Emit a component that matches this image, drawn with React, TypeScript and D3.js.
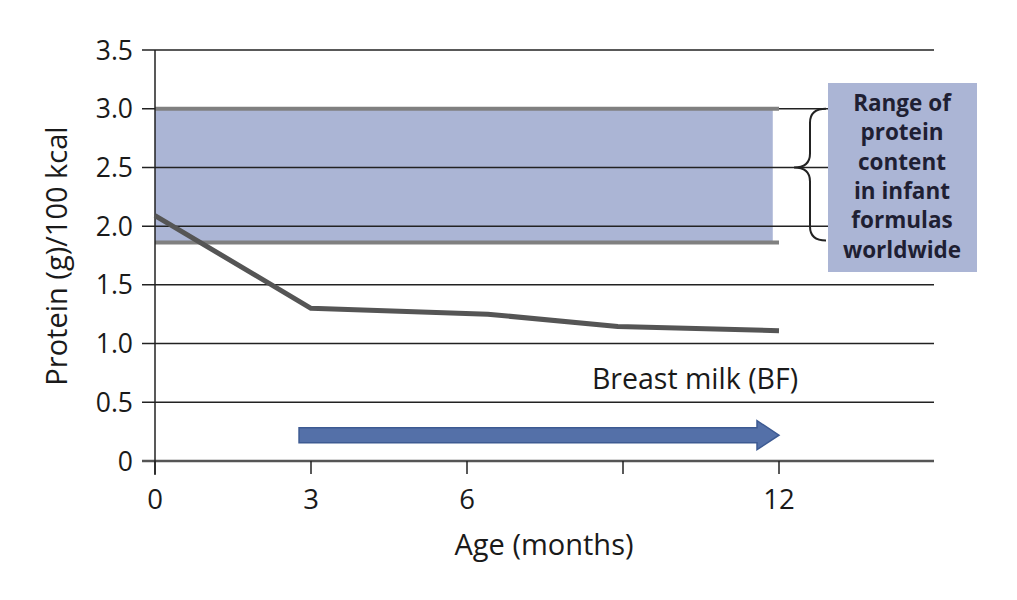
import React from "react";
import * as d3 from "d3";

const months = [0, 3, 6.4, 8.9, 12];
const breastMilkProtein = [2.09, 1.3, 1.25, 1.145, 1.11];
const formulaRange = [1.86, 3.0];
const formulaRangeMonths = [0, 12];
const arrowMonths = [2.77, 12];
const arrowLevel = 0.22;
const yTicks = [0, 0.5, 1, 1.5, 2, 2.5, 3, 3.5];
const yTickLabels = ["0", "0.5", "1.0", "1.5", "2.0", "2.5", "3.0", "3.5"];
const xTicks = [0, 3, 6, 9, 12];
const xTickLabels = ["0", "3", "6", "", "12"];
const boxLines = ["Range of", "protein", "content", "in infant", "formulas", "worldwide"];

const W = 1017;
const H = 600;
const FONT = "'Open Sans', 'Noto Sans', sans-serif";

export default function App() {
  const x = d3.scaleLinear().domain([0, 15]).range([155, 935]);
  const y = d3.scaleLinear().domain([0, 3.5]).range([461, 50]);

  const line = d3
    .line<number>()
    .x((_, i) => x(months[i]))
    .y((d) => y(d));

  const bandX0 = x(formulaRangeMonths[0]);
  const bandX1 = x(formulaRangeMonths[1]);
  const bandTop = y(formulaRange[1]);
  const bandBot = y(formulaRange[0]);

  const ax0 = x(arrowMonths[0]);
  const ax1 = x(arrowMonths[1]);
  const ay = y(arrowLevel);
  const shaftH = 7.5;
  const headH = 14.5;
  const headL = 22;
  const arrowPath = [
    [ax0, ay - shaftH],
    [ax1 - headL, ay - shaftH],
    [ax1 - headL, ay - headH],
    [ax1, ay],
    [ax1 - headL, ay + headH],
    [ax1 - headL, ay + shaftH],
    [ax0, ay + shaftH],
  ];
  const arrowD = "M" + arrowPath.map((p) => p.join(",")).join("L") + "Z";

  const bTop = bandTop;
  const bBot = bandBot - 2;
  const bMid = y(2.5);
  const bx = 826;
  const bArm = 810;
  const bTip = 794;
  const r = 14;
  const braceD = `M${bx},${bTop} Q${bArm},${bTop} ${bArm},${bTop + r} L${bArm},${bMid - r} Q${bArm},${bMid} ${bTip},${bMid} Q${bArm},${bMid} ${bArm},${bMid + r} L${bArm},${bBot - r} Q${bArm},${bBot} ${bx},${bBot}`;

  return (
    <svg
      width={W}
      height={H}
      style={{ position: "absolute", left: 0, top: 0, background: "#fff" }}
      fontFamily={FONT}
    >
      <rect
        x={bandX0}
        y={bandTop}
        width={x(11.88) - bandX0}
        height={bandBot - bandTop}
        fill="#abb5d5"
      />
      {yTicks.map((t) => (
        <line
          key={t}
          x1={142}
          x2={934}
          y1={y(t)}
          y2={y(t)}
          stroke={t === 0 ? "#555" : "#222"}
          strokeWidth={t === 0 ? 2.5 : 1.5}
        />
      ))}
      {formulaRange.map((v) => (
        <line
          key={v}
          x1={bandX0}
          x2={bandX1}
          y1={y(v)}
          y2={y(v)}
          stroke="#808080"
          strokeWidth={4}
        />
      ))}
      <line x1={155} x2={155} y1={y(3.5)} y2={475} stroke="#222" strokeWidth={1.5} />
      {xTicks.map((t) => (
        <line key={t} x1={x(t)} x2={x(t)} y1={y(0)} y2={474} stroke="#222" strokeWidth={1.5} />
      ))}
      {yTicks.map((t, i) => (
        <text
          key={t}
          x={133}
          y={y(t)}
          dy="0.36em"
          textAnchor="end"
          fontSize={26.5}
          fill="#1a1a1a"
        >
          {yTickLabels[i]}
        </text>
      ))}
      {xTicks.map((t, i) => (
        <text key={t} x={x(t)} y={509} textAnchor="middle" fontSize={27.5} fill="#1a1a1a">
          {xTickLabels[i]}
        </text>
      ))}
      <text x={544} y={555} textAnchor="middle" fontSize={29} fill="#1a1a1a">
        Age (months)
      </text>
      <text
        transform={`translate(67,256) rotate(-90)`}
        textAnchor="middle"
        fontSize={29}
        fill="#1a1a1a"
      >
        Protein (g)/100 kcal
      </text>
      <path
        d={line(breastMilkProtein) || ""}
        fill="none"
        stroke="#555"
        strokeWidth={5}
        strokeLinejoin="round"
      />
      <path d={arrowD} fill="#5470a8" stroke="#3d5a92" strokeWidth={1.5} />
      <text x={695} y={389} textAnchor="middle" fontSize={28.5} fill="#1a1a1a">
        Breast milk (BF)
      </text>
      <path d={braceD} fill="none" stroke="#222" strokeWidth={2} />
      <rect x={828} y={83} width={149} height={189} fill="#abb5d5" />
      {boxLines.map((s, i) => (
        <text
          key={s}
          x={902}
          y={103 + i * 29.4}
          dy="0.35em"
          textAnchor="middle"
          fontSize={22.5}
          fontWeight="bold"
          fill="#1f1f33"
        >
          {s}
        </text>
      ))}
    </svg>
  );
}
